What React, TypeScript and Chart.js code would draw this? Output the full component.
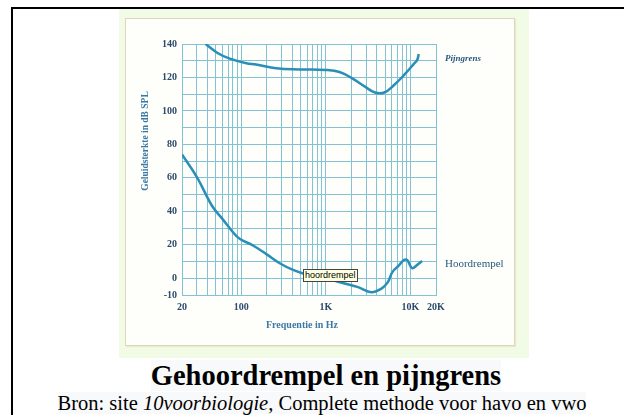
import React, { useEffect, useRef } from "react";
import { Chart, registerables } from "chart.js";

Chart.register(...registerables);

// Pijngrens (pain threshold): [frequency Hz, dB SPL]
const painFreq = [38, 52, 72, 115, 150, 260, 490, 1000, 1450, 2050, 2900, 3800, 4900, 6400, 8400, 10900, 12000, 12500];
const painDb = [140, 134.8, 131.4, 128.5, 127.8, 125.5, 124.8, 124.5, 123.3, 119.5, 114.5, 111, 111, 115.5, 121.5, 128, 130.5, 134];

// Hoordrempel (hearing threshold)
const hearFreq = [20, 30, 45, 60, 80, 96, 138, 200, 285, 410, 590, 1000, 1500, 2400, 3450, 4500, 5400, 6100, 7300, 8400, 9200, 10450, 12000, 13700];
const hearDb = [74, 60.5, 43.5, 35.5, 27.5, 23.6, 19.6, 14.3, 9, 5, 2.3, 0, -2.5, -5.3, -8.3, -6.3, -2.3, 3.7, 7.7, 11, 10.7, 6, 8, 10.3];

// Grid / tick positions on the frequency axis
const freqGrid = [20, 30, 40, 50, 60, 70, 80, 90, 100, 200, 300, 400, 500, 600, 700, 800, 900, 1000, 2000, 3000, 4000, 5000, 6000, 7000, 8000, 9000, 10000, 20000];
const freqLabelValues = [20, 100, 1000, 10000, 20000];
const freqLabelTexts = ["20", "100", "1K", "10K", "20K"];
const dbLabelValues = [140, 120, 100, 80, 60, 40, 20, 0, -10];

const LINE = "#2a8fb8";
const GRID = "#82c2d4";
const TICK = "#2c4a6b";
const TITLE = "#3a78a5";

export default function App() {
  const ref = useRef<HTMLCanvasElement | null>(null);

  useEffect(() => {
    if (!ref.current) return;
    const labelsPlugin = {
      id: "extraLabels",
      afterDraw(chart: any) {
        const ctx = chart.ctx;
        const y = chart.scales.y;
        const area = chart.chartArea;
        ctx.save();
        ctx.fillStyle = TITLE;
        ctx.font = "bold 9.5px 'Liberation Serif', serif";
        ctx.textAlign = "center";
        ctx.textBaseline = "middle";
        ctx.translate(20, 122);
        ctx.rotate(-Math.PI / 2);
        ctx.fillText("Geluidsterkte in dB SPL", 0, 0);
        ctx.restore();
        ctx.save();
        ctx.fillStyle = TITLE;
        ctx.font = "bold 10px 'Liberation Serif', serif";
        ctx.textAlign = "center";
        ctx.textBaseline = "middle";
        ctx.fillText("Frequentie in Hz", 176, 306);
        ctx.fillStyle = "#2a5a80";
        ctx.textAlign = "left";
        ctx.font = "italic bold 9px 'Liberation Serif', serif";
        ctx.fillText("Pijngrens", area.right + 9, y.getPixelForValue(131.5));
        ctx.font = "11px 'Liberation Serif', serif";
        ctx.fillText("Hoordrempel", area.right + 9, y.getPixelForValue(8.5));
        ctx.restore();
      },
    };

    const chart = new Chart(ref.current, {
      type: "line",
      data: {
        datasets: [
          {
            label: "Pijngrens",
            data: painFreq.map((f, i) => ({ x: f, y: painDb[i] })),
            borderColor: LINE,
            borderWidth: 2.5,
            pointRadius: 0,
            tension: 0.4,
            fill: false,
          },
          {
            label: "Hoordrempel",
            data: hearFreq.map((f, i) => ({ x: f, y: hearDb[i] })),
            borderColor: LINE,
            borderWidth: 2.5,
            pointRadius: 0,
            tension: 0.4,
            fill: false,
          },
        ],
      },
      options: {
        animation: false,
        responsive: false,
        maintainAspectRatio: false,
        layout: { padding: { left: 0, top: 25, right: 78, bottom: 30 } },
        plugins: { legend: { display: false }, tooltip: { enabled: false }, title: { display: false } },
        scales: {
          x: {
            type: "logarithmic",
            min: 20,
            max: 20000,
            afterBuildTicks: (scale: any) => {
              scale.ticks = freqGrid.map((v) => ({ value: v }));
            },
            afterFit: (scale: any) => {
              scale.height = 20;
            },
            grid: { color: GRID, lineWidth: 1, drawTicks: false },
            border: { color: GRID, width: 1 },
            ticks: {
              autoSkip: false,
              maxRotation: 0,
              padding: 6,
              color: TICK,
              font: { family: "'Liberation Serif', serif", size: 10, weight: "bold" },
              callback: (value: any) => {
                const i = freqLabelValues.indexOf(Number(value));
                return i >= 0 ? freqLabelTexts[i] : "";
              },
            },
          },
          y: {
            type: "linear",
            min: -10,
            max: 140,
            afterFit: (scale: any) => {
              scale.width = 56;
            },
            grid: { color: GRID, lineWidth: 1, drawTicks: false },
            border: { color: GRID, width: 1 },
            ticks: {
              stepSize: 10,
              padding: 5,
              color: TICK,
              font: { family: "'Liberation Serif', serif", size: 10, weight: "bold" },
              callback: (value: any) => (dbLabelValues.indexOf(Number(value)) >= 0 ? String(value) : ""),
            },
          },
        },
      },
      plugins: [labelsPlugin],
    });
    return () => chart.destroy();
  }, []);

  return (
    <div
      style={{
        position: "absolute",
        left: 0,
        top: 0,
        width: 624,
        height: 415,
        overflow: "hidden",
        background: "#ffffff",
        fontFamily: "'Liberation Serif', serif",
      }}
    >
      <div
        style={{
          position: "absolute",
          left: 11,
          top: 7,
          width: 700,
          height: 500,
          borderTop: "2px solid #000",
          borderLeft: "2px solid #000",
        }}
      />
      <div style={{ position: "absolute", left: 119, top: 9, width: 410, height: 349, background: "#f2fbe5" }} />
      <div
        style={{
          position: "absolute",
          left: 125,
          top: 18,
          width: 388,
          height: 326,
          background: "#fefefa",
          border: "1px solid #dcd8b8",
          boxShadow: "1px 1px 1px #ece9d2",
        }}
      />
      <canvas ref={ref} width={388} height={326} style={{ position: "absolute", left: 126, top: 19, width: 388, height: 326 }} />
      <div
        style={{
          position: "absolute",
          left: 303,
          top: 269,
          width: 52,
          height: 11,
          background: "#ffffe1",
          border: "1px solid #444",
          font: "9px 'Liberation Sans', Arial, sans-serif",
          lineHeight: "11px",
          color: "#000",
          paddingLeft: 1,
          whiteSpace: "nowrap",
        }}
      >
        hoordrempel
      </div>
      <div
        style={{
          position: "absolute",
          left: 0,
          top: 361,
          width: 652,
          textAlign: "center",
          fontWeight: "bold",
          fontSize: 28.5,
          lineHeight: "30px",
          color: "#000",
          whiteSpace: "nowrap",
        }}
      >
        <span style={{ background: "#f8f9fa" }}>Gehoordrempel en pijngrens</span>
      </div>
      <div
        style={{
          position: "absolute",
          left: 0,
          top: 392,
          width: 644,
          textAlign: "center",
          fontSize: 20.5,
          lineHeight: "22px",
          color: "#000",
          whiteSpace: "nowrap",
        }}
      >
        <span style={{ background: "#f8f9fa" }}>
          Bron: site <i>10voorbiologie</i>, Complete methode voor havo en vwo
        </span>
      </div>
    </div>
  );
}
